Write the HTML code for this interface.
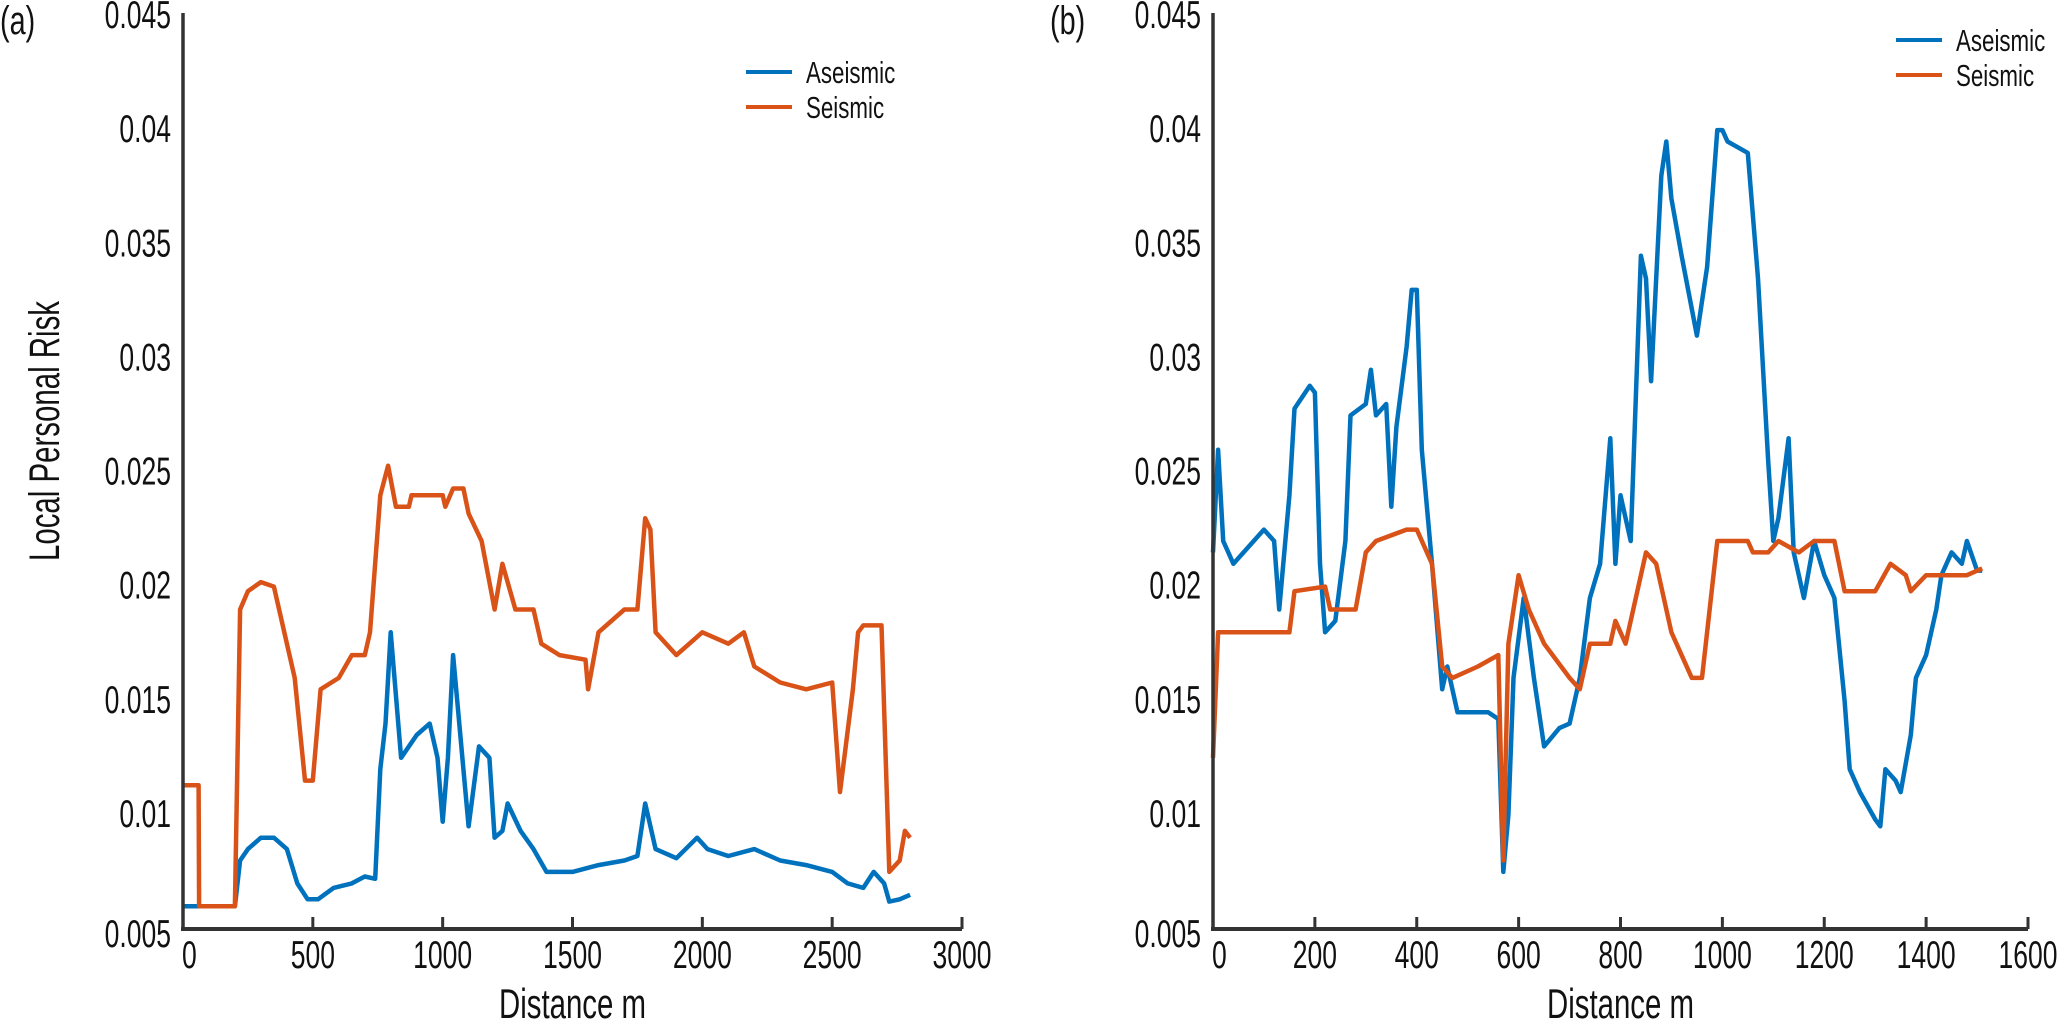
<!DOCTYPE html>
<html><head><meta charset="utf-8"><style>
html,body{margin:0;padding:0;background:#fff;}
svg text{font-family:"Liberation Sans",sans-serif;fill:#111;}
</style></head><body>
<svg id="fig" width="2060" height="1022" viewBox="0 0 2060 1022" xmlns="http://www.w3.org/2000/svg"></svg>
<script>
const aX=[0,20,40,60,62,200,220,250,300,350,400,430,470,500,530,600,650,700,720,760,790,820,870,880,1000,1010,1040,1080,1100,1150,1200,1230,1280,1350,1380,1450,1550,1560,1600,1700,1750,1780,1800,1820,1900,2000,2100,2160,2200,2300,2400,2500,2530,2580,2600,2620,2690,2720,2760,2780,2800];
const aSeis=[0.0113,0.0113,0.0113,0.0113,0.006,0.006,0.019,0.0198,0.0202,0.0200,0.0175,0.016,0.0115,0.0115,0.0155,0.016,0.017,0.017,0.018,0.024,0.0253,0.0235,0.0235,0.024,0.024,0.0235,0.0243,0.0243,0.0232,0.022,0.019,0.021,0.019,0.019,0.0175,0.017,0.0168,0.0155,0.018,0.019,0.019,0.023,0.0225,0.018,0.017,0.018,0.0175,0.018,0.0165,0.0158,0.0155,0.0158,0.011,0.0155,0.018,0.0183,0.0183,0.0075,0.008,0.0093,0.009];
const aAseisX=[0,200,220,250,300,350,400,440,480,520,580,650,700,740,760,780,800,840,900,950,980,1000,1020,1040,1080,1100,1140,1180,1200,1230,1250,1300,1350,1400,1500,1600,1700,1750,1780,1820,1900,1980,2020,2100,2200,2300,2400,2500,2560,2620,2660,2700,2720,2760,2800];
const aAseis=[0.006,0.006,0.008,0.0085,0.009,0.009,0.0085,0.007,0.0063,0.0063,0.0068,0.007,0.0073,0.0072,0.012,0.014,0.018,0.0125,0.0135,0.014,0.0125,0.0097,0.0125,0.017,0.012,0.0095,0.013,0.0125,0.009,0.0093,0.0105,0.0093,0.0085,0.0075,0.0075,0.0078,0.008,0.0082,0.0105,0.0085,0.0081,0.009,0.0085,0.0082,0.0085,0.008,0.0078,0.0075,0.007,0.0068,0.0075,0.007,0.0062,0.0063,0.0065];
const bAseisX=[0,10,20,40,100,120,130,150,160,190,200,210,220,240,260,270,300,310,320,340,350,360,380,390,400,410,430,450,460,480,500,540,560,570,580,590,610,630,650,680,700,720,740,760,780,790,800,820,840,850,860,880,890,900,920,950,970,990,1000,1010,1050,1070,1090,1100,1110,1130,1140,1160,1180,1200,1220,1240,1250,1270,1300,1310,1320,1340,1350,1370,1380,1400,1420,1430,1450,1470,1480,1500,1510];
const bAseis=[0.0215,0.026,0.022,0.021,0.0225,0.022,0.019,0.024,0.0278,0.0288,0.0285,0.021,0.018,0.0185,0.022,0.0275,0.028,0.0295,0.0275,0.028,0.0235,0.027,0.0305,0.033,0.033,0.026,0.021,0.0155,0.0165,0.0145,0.0145,0.0145,0.0142,0.0075,0.01,0.016,0.0195,0.016,0.013,0.0138,0.014,0.016,0.0195,0.021,0.0265,0.021,0.024,0.022,0.0345,0.0335,0.029,0.038,0.0395,0.037,0.0345,0.031,0.034,0.04,0.04,0.0395,0.039,0.0335,0.0255,0.022,0.023,0.0265,0.0215,0.0195,0.022,0.0205,0.0195,0.015,0.012,0.011,0.0098,0.0095,0.012,0.0115,0.011,0.0135,0.016,0.017,0.019,0.0205,0.0215,0.021,0.022,0.0207,0.0207];
const bSeisX=[0,10,150,160,220,230,280,300,320,380,400,430,450,470,520,560,570,580,600,620,650,700,720,740,780,790,810,850,870,900,940,960,990,1050,1060,1090,1110,1150,1180,1220,1240,1300,1330,1360,1370,1400,1450,1480,1510];
const bSeis=[0.0125,0.018,0.018,0.0198,0.02,0.019,0.019,0.0215,0.022,0.0225,0.0225,0.021,0.0165,0.016,0.0165,0.017,0.008,0.0175,0.0205,0.019,0.0175,0.016,0.0155,0.0175,0.0175,0.0185,0.0175,0.0215,0.021,0.018,0.016,0.016,0.022,0.022,0.0215,0.0215,0.022,0.0215,0.022,0.022,0.0198,0.0198,0.021,0.0205,0.0198,0.0205,0.0205,0.0205,0.0208];
const yTicks=[0.005,0.01,0.015,0.02,0.025,0.03,0.035,0.04,0.045];
const yTickLabels=["0.005","0.01","0.015","0.02","0.025","0.03","0.035","0.04","0.045"];
const aXTicks=[0,500,1000,1500,2000,2500,3000];
const bXTicks=[0,200,400,600,800,1000,1200,1400,1600];

const NS="http://www.w3.org/2000/svg";
const svg=document.getElementById('fig');
function mk(tag,attrs,parent){const e=document.createElementNS(NS,tag);for(const k in attrs)e.setAttribute(k,attrs[k]);(parent||svg).appendChild(e);return e;}
function txt(parent,x,y,s,size,anchor,sx){
  const g=mk('g',{transform:'translate('+x+','+y+') scale('+sx+',1)'},parent);
  const t=mk('text',{x:0,y:0,'text-anchor':anchor,'font-size':size},g);
  t.textContent=s;return t;
}
const BLUE="#0072bd",ORANGE="#d95319";
function panel(id,x0,x1,xmax,xticks,series,legX,legY,label,labelX){
  const yTop=16,yBot=929;
  const g=mk('g',{});
  
  
  const sx=v=>x0+v/xmax*(x1-x0);
  const sy=v=>yBot-(v-0.005)/0.04*(yBot-yTop);
  series.forEach(s=>{
    const p=mk('polyline',{points:s.x.map((d,i)=>sx(d).toFixed(1)+','+sy(s.y[i]).toFixed(1)).join(' '),fill:'none',stroke:s.c,'stroke-width':4.5,'stroke-linejoin':'round'},g);
    
    
  });
  const ya=mk('line',{x1:x0,y1:yTop-3,x2:x0,y2:yBot+2,stroke:'#333','stroke-width':3.5},g);
  
  
  const xa=mk('line',{x1:x0-2,y1:yBot,x2:x1,y2:yBot,stroke:'#333','stroke-width':4},g);
  
  
  yTicks.forEach((v,i)=>{
    const t=txt(g,x0-12,sy(v)+(i===0?18:12),yTickLabels[i],39,'end',0.68);
    
    
  });
  xticks.forEach(v=>{
    const tk=mk('line',{x1:sx(v),y1:yBot,x2:sx(v),y2:yBot-12,stroke:'#333','stroke-width':3},g);
    
    
    const t=txt(g,sx(v)+(v===0?-1:0),yBot+39,String(v),39,v===0?'start':'middle',0.68);
    
    
  });
  const xl=txt(g,(x0+x1)/2,1018,'Distance m',42,'middle',0.7);
  
  
  const pl=txt(g,labelX,34,label,40,'start',0.72);
  
  
  [['Aseismic',BLUE,0],['Seismic',ORANGE,35]].forEach(([n,c,dy])=>{
    const lg=mk('g',{},g);
    
    
    mk('line',{x1:legX,y1:legY+dy,x2:legX+46,y2:legY+dy,stroke:c,'stroke-width':4},lg);
    txt(lg,legX+60,legY+dy+11,n,31,'start',0.72);
  });
}
panel('a',183,962,3000,aXTicks,[{x:aAseisX,y:aAseis,c:BLUE,name:'aseismic'},{x:aX,y:aSeis,c:ORANGE,name:'seismic'}],746,72,'(a)',0);
panel('b',1213,2028,1600,bXTicks,[{x:bAseisX,y:bAseis,c:BLUE,name:'aseismic'},{x:bSeisX,y:bSeis,c:ORANGE,name:'seismic'}],1896,40,'(b)',1050);
const yl=mk('text',{x:0,y:0,'text-anchor':'middle','font-size':43,textLength:260,lengthAdjust:'spacingAndGlyphs',transform:'translate(59,431) rotate(-90)'});
yl.textContent='Local Personal Risk';


</script>
</body></html>
